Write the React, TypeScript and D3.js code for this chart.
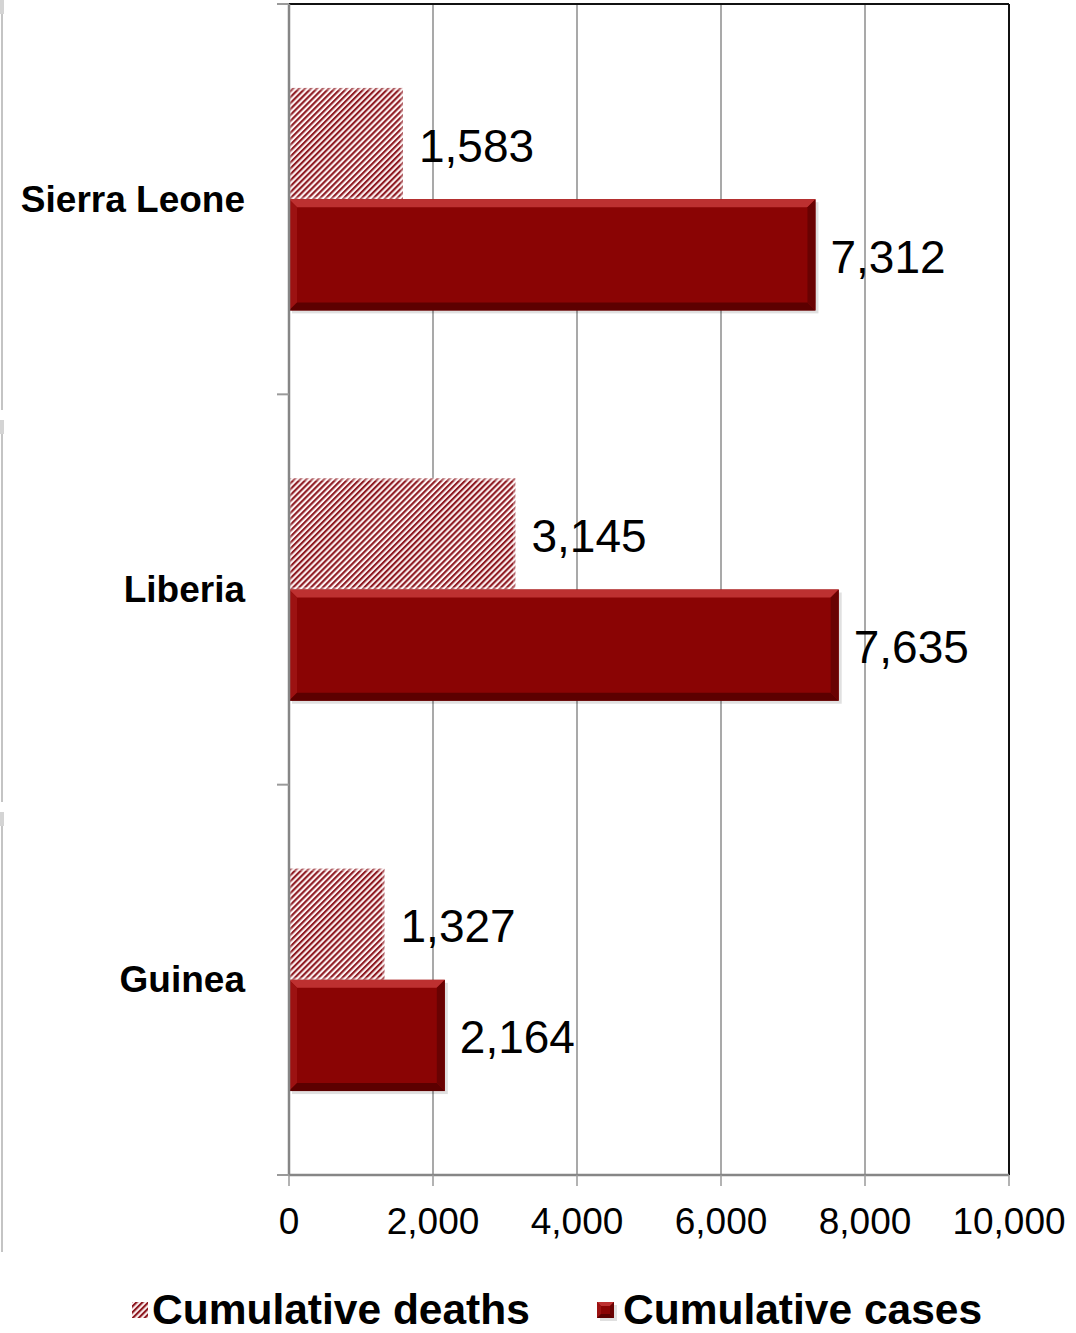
import React from "react";
import * as d3 from "d3";

const categories = ["Sierra Leone", "Liberia", "Guinea"];
const deaths = [1583, 3145, 1327];
const cases = [7312, 7635, 2164];
const xTicks = [0, 2000, 4000, 6000, 8000, 10000];
const seriesNames = ["Cumulative deaths", "Cumulative cases"];

const W = 1076;
const H = 1333;
const plot = { left: 289, right: 1009, top: 4, bottom: 1175 };

const fmt = d3.format(",");

// bevelled bar like the office "bevel" effect
const Bevel = ({ x, y, w, h, b = 8 }: { x: number; y: number; w: number; h: number; b?: number }) => {
  const p = (pts: number[][]) => pts.map((d) => d.join(",")).join(" ");
  return (
    <g>
      <rect x={x + 3} y={y + 3} width={w} height={h} fill="#000" opacity={0.12} />
      <rect x={x} y={y} width={w} height={h} fill="#8a0404" />
      <polygon points={p([[x, y], [x + w, y], [x + w - b, y + b], [x + b, y + b]])} fill="#bd3030" />
      <polygon points={p([[x, y], [x + b, y + b], [x + b, y + h - b], [x, y + h]])} fill="#9c1212" />
      <polygon points={p([[x, y + h], [x + b, y + h - b], [x + w - b, y + h - b], [x + w, y + h]])} fill="#5c0000" />
      <polygon points={p([[x + w, y], [x + w, y + h], [x + w - b, y + h - b], [x + w - b, y + b]])} fill="#690202" />
    </g>
  );
};

export default function App() {
  const x = d3.scaleLinear().domain([0, 10000]).range([plot.left, plot.right]);
  const y = d3
    .scaleBand<string>()
    .domain(categories)
    .range([plot.top, plot.bottom])
    .paddingInner(0.43)
    .paddingOuter(0.215);
  const sub = d3.scaleBand<string>().domain(["deaths", "cases"]).range([0, y.bandwidth()]);
  const step = y.step();
  const bounds = d3.range(categories.length + 1).map((i) => plot.top + i * step);

  return (
    <svg
      width={W}
      height={H}
      style={{ position: "absolute", left: 0, top: 0, background: "#fff" }}
      fontFamily="Liberation Sans, Arial, sans-serif"
    >
      <defs>
        <pattern id="stripes" patternUnits="userSpaceOnUse" width={4.2} height={4.2} patternTransform="rotate(45)">
          <rect width={4.2} height={4.2} fill="#fdf2f2" />
          <rect width={2.1} height={4.2} fill="#8e1a22" />
        </pattern>
      </defs>

      {/* faint slide edges on the left */}
      {[[0, 410], [420, 802], [812, 1252]].map(([a, b], i) => (
        <g key={i}>
          <line x1={2} x2={2} y1={a} y2={b} stroke="#c4c4c4" strokeWidth={2} />
          <rect x={0} y={a} width={4} height={14} fill="#d4d4d4" />
        </g>
      ))}

      {/* gridlines */}
      {xTicks.slice(1, -1).map((t) => (
        <line key={t} x1={x(t)} x2={x(t)} y1={plot.top} y2={plot.bottom} stroke="#8c8c8c" strokeWidth={1.5} />
      ))}

      {/* frame */}
      <line x1={plot.left} x2={plot.right} y1={plot.top} y2={plot.top} stroke="#111" strokeWidth={2} />
      <line x1={plot.right} x2={plot.right} y1={plot.top} y2={plot.bottom} stroke="#111" strokeWidth={2} />

      {/* bars */}
      {categories.map((c, i) => {
        const by = y(c)!;
        const dy = by + sub("deaths")!;
        const cy = by + sub("cases")!;
        const bh = sub.bandwidth();
        const dw = x(deaths[i]) - x(0);
        const cw = x(cases[i]) - x(0);
        return (
          <g key={c}>
            <rect x={x(0)} y={dy} width={dw} height={bh} fill="url(#stripes)" />
            <rect x={x(0) + 1} y={dy + 1} width={dw - 2} height={bh - 2} fill="none" stroke="#fff" strokeOpacity={0.3} strokeWidth={3} />
            <Bevel x={x(0)} y={cy} w={cw} h={bh} />
            <text x={x(deaths[i]) + 16} y={dy + bh / 2 + 2} fontSize={46} dominantBaseline="central" fill="#000">
              {fmt(deaths[i])}
            </text>
            <text x={x(cases[i]) + 15} y={cy + bh / 2 + 2} fontSize={46} dominantBaseline="central" fill="#000">
              {fmt(cases[i])}
            </text>
            <text x={245} y={by + y.bandwidth() / 2} fontSize={37} fontWeight="bold" textAnchor="end" dominantBaseline="central">
              {c}
            </text>
          </g>
        );
      })}

      {/* y axis */}
      <line x1={plot.left} x2={plot.left} y1={plot.top} y2={plot.bottom} stroke="#868686" strokeWidth={2.5} />
      {bounds.map((b, i) => (
        <line key={i} x1={plot.left - 12} x2={plot.left} y1={b} y2={b} stroke="#9a9a9a" strokeWidth={2} />
      ))}

      {/* x axis */}
      <line x1={plot.left} x2={plot.right} y1={plot.bottom} y2={plot.bottom} stroke="#868686" strokeWidth={2.5} />
      {xTicks.map((t) => (
        <g key={t}>
          <line x1={x(t)} x2={x(t)} y1={plot.bottom} y2={plot.bottom + 11} stroke="#9a9a9a" strokeWidth={1.5} />
          <text x={x(t)} y={1221} fontSize={37} textAnchor="middle" dominantBaseline="central">
            {fmt(t)}
          </text>
        </g>
      ))}

      {/* legend */}
      <g>
        <rect x={132} y={1302} width={16} height={16} fill="url(#stripes)" />
        <text x={152} y={1324} fontSize={42.5} fontWeight="bold">
          {seriesNames[0]}
        </text>
        <Bevel x={597} y={1302} w={17} h={16} b={4} />
        <text x={623} y={1324} fontSize={42.5} fontWeight="bold">
          {seriesNames[1]}
        </text>
      </g>
    </svg>
  );
}
